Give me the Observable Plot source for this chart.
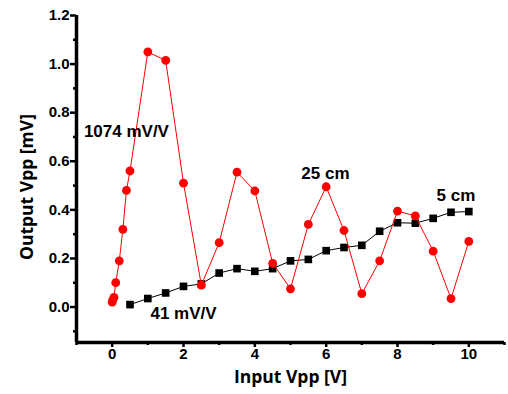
<!DOCTYPE html>
<html>
<head>
<meta charset="utf-8">
<script src="https://cdn.jsdelivr.net/npm/d3@7"></script>
<script src="https://cdn.jsdelivr.net/npm/@observablehq/plot@0.6"></script>
<style>
  html, body { margin: 0; padding: 0; background: #fff; }
  #chart svg { display: block; }
</style>
</head>
<body>
<div id="chart"></div>
<script>
// 25 cm series (red circles)
const x25 = [0, 0.02, 0.05, 0.1, 0.2, 0.3, 0.4, 0.5, 1.0, 1.5, 2.0, 2.5, 3.0, 3.5, 4.0, 4.5, 5.0, 5.5, 6.0, 6.5, 7.0, 7.5, 8.0, 8.5, 9.0, 9.5, 10.0];
const y25 = [0.02, 0.03, 0.04, 0.10, 0.19, 0.32, 0.48, 0.56, 1.05, 1.015, 0.51, 0.09, 0.265, 0.555, 0.478, 0.18, 0.075, 0.34, 0.495, 0.315, 0.055, 0.19, 0.395, 0.375, 0.23, 0.035, 0.27];
// 5 cm series (black squares)
const x5 = [0.5, 1.0, 1.5, 2.0, 2.5, 3.0, 3.5, 4.0, 4.5, 5.0, 5.5, 6.0, 6.5, 7.0, 7.5, 8.0, 8.5, 9.0, 9.5, 10.0];
const y5 = [0.01, 0.035, 0.058, 0.085, 0.095, 0.14, 0.158, 0.147, 0.158, 0.19, 0.196, 0.232, 0.245, 0.254, 0.312, 0.347, 0.345, 0.365, 0.39, 0.393];
// axis ticks
const xMajor = [0, 2, 4, 6, 8, 10];
const xMinor = [-1, 1, 3, 5, 7, 9, 11];
const yMajor = [0, 0.2, 0.4, 0.6, 0.8, 1.0, 1.2];
const yMinor = [-0.1, 0.1, 0.3, 0.5, 0.7, 0.9, 1.1];
// annotations
const noteText = ["1074 mV/V", "41 mV/V", "25 cm", "5 cm"];
const noteX = [0.4, 2.0, 5.98, 9.64];
const noteY = [0.722, -0.027, 0.55, 0.459];

const s25 = x25.map((x, i) => ({x, y: y25[i]}));
const s5 = x5.map((x, i) => ({x, y: y5[i]}));
const notes = noteText.map((t, i) => ({t, x: noteX[i], y: noteY[i]}));

const tickFont = "Liberation Sans, Arial, sans-serif";
const titleFont = "Open Sans, DejaVu Sans, sans-serif";

const chart = Plot.plot({
  width: 508,
  height: 394,
  marginLeft: 76,
  marginRight: 4,
  marginTop: 15,
  marginBottom: 52,
  style: {fontFamily: tickFont, background: "#fff", overflow: "visible"},
  x: {domain: [-1, 11]},
  y: {domain: [-0.146, 1.2]},
  marks: [
    Plot.axisX({ticks: xMajor, tickSize: 5, strokeWidth: 2.5, tickPadding: 1, fontSize: 15, fontWeight: "bold", fontFamily: tickFont, label: null, tickFormat: d3.format("d")}),
    Plot.axisX({ticks: xMinor, tickSize: 3, strokeWidth: 2.5, text: null, label: null}),
    Plot.axisY({ticks: yMajor, tickSize: 6, strokeWidth: 2.5, tickPadding: 1, fontSize: 15, fontWeight: "bold", fontFamily: tickFont, label: null, tickFormat: d3.format(".1f")}),
    Plot.axisY({ticks: yMinor, tickSize: 3, strokeWidth: 2.5, text: null, label: null}),
    Plot.ruleY([-0.146], {stroke: "black", strokeWidth: 3.5}),
    Plot.ruleX([-1], {stroke: "black", strokeWidth: 3.5}),
    Plot.line(s5, {x: "x", y: "y", stroke: "black", strokeWidth: 1}),
    Plot.dot(s5, {x: "x", y: "y", symbol: "square", r: 4.3, fill: "black", stroke: "none"}),
    Plot.line(s25, {x: "x", y: "y", stroke: "#ff0000", strokeWidth: 1}),
    Plot.dot(s25, {x: "x", y: "y", r: 4.4, fill: "#ff0000", stroke: "none"}),
    Plot.text(notes, {x: "x", y: "y", text: "t", fontSize: 17, fontWeight: "bold", fontFamily: tickFont, fill: "black"}),
    Plot.text(["Input Vpp [V]"], {frameAnchor: "bottom", dy: 40, textAnchor: "middle", fontSize: 17.5, fontWeight: "bold", fontFamily: titleFont, fill: "black"}),
    Plot.text(["Output Vpp [mV]"], {frameAnchor: "left", dx: -49, dy: 8, textAnchor: "middle", rotate: -90, fontSize: 17.5, fontWeight: "bold", fontFamily: titleFont, fill: "black"})
  ]
});
document.getElementById("chart").appendChild(chart);
</script>
</body>
</html>
